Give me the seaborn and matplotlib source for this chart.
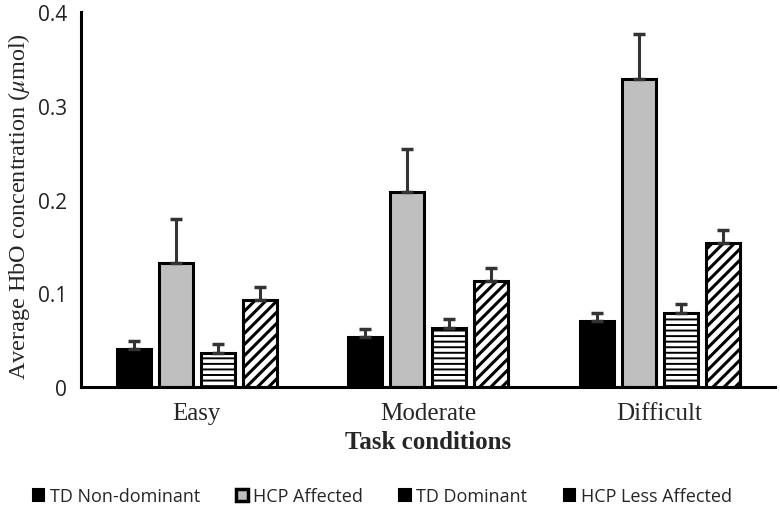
import matplotlib
matplotlib.use("Agg")
import matplotlib.pyplot as plt
import seaborn as sns
import pandas as pd
import numpy as np
from matplotlib.patches import Patch

conditions = ["Easy", "Moderate", "Difficult"]
groups = ["TD Non-dominant", "HCP Affected", "TD Dominant", "HCP Less Affected"]

td_nondominant = [0.041, 0.054, 0.071]
hcp_affected = [0.132, 0.208, 0.329]
td_dominant = [0.036, 0.063, 0.079]
hcp_less_affected = [0.093, 0.113, 0.154]

td_nondominant_err = [0.008, 0.008, 0.008]
hcp_affected_err = [0.047, 0.046, 0.048]
td_dominant_err = [0.010, 0.010, 0.010]
hcp_less_affected_err = [0.014, 0.014, 0.014]

yticks = [0, 0.1, 0.2, 0.3, 0.4]
ytick_labels = ["0", "0.1", "0.2", "0.3", "0.4"]

values = [td_nondominant, hcp_affected, td_dominant, hcp_less_affected]
errors = [td_nondominant_err, hcp_affected_err, td_dominant_err, hcp_less_affected_err]

rows = []
for g, vals in zip(groups, values):
    for c, v in zip(conditions, vals):
        rows.append({"condition": c, "group": g, "value": v})
df = pd.DataFrame(rows)

sns.set_theme(style="white")
plt.rcParams["mathtext.fontset"] = "stix"
sans = ["Liberation Sans Narrow", "Open Sans", "DejaVu Sans"]
serif = ["Liberation Serif", "DejaVu Serif"]

fig = plt.figure(figsize=(7.8, 5.1), dpi=100)
ax = fig.add_axes([0.104, 0.239, 0.890, 0.735])

palette = {"TD Non-dominant": "#000000", "HCP Affected": "#bfbfbf",
           "TD Dominant": "#ffffff", "HCP Less Affected": "#ffffff"}
hatches = ["", "", "---", "///"]

sns.barplot(data=df, x="condition", y="value", hue="group", order=conditions,
            hue_order=groups, palette=palette, width=0.726, gap=0.19,
            edgecolor="black", linewidth=2.2, errorbar=None, saturation=1,
            legend=False, ax=ax)

for cont, h, errs in zip(ax.containers, hatches, errors):
    xs, ys = [], []
    for bar in cont:
        bar.set_hatch(h)
        try:
            bar.set_hatch_linewidth(2.2 if h == "///" else 1.4)
        except Exception:
            pass
        xs.append(bar.get_x() + bar.get_width() / 2)
        ys.append(bar.get_height())
    ax.errorbar(xs, ys, yerr=[np.zeros(len(errs)), errs], fmt="none",
                ecolor="#333333", elinewidth=2.2, capsize=4, capthick=2.5, zorder=1)

ax.set_ylim(0, 0.4)
ax.set_xlim(-0.5, 2.5)
ax.set_yticks(yticks)
ax.set_yticklabels(ytick_labels, family=sans, fontsize=15, color="#222222")
ax.set_xticklabels(conditions, family=serif, fontsize=18)
ax.tick_params(axis="y", length=0, pad=10)
ax.tick_params(axis="x", length=0, pad=11)
for s in ["top", "right"]:
    ax.spines[s].set_visible(False)
for s in ["left", "bottom"]:
    ax.spines[s].set_linewidth(2.2)
    ax.spines[s].set_color("black")

ax.set_xlabel("Task conditions", family=serif, fontsize=18, fontweight="bold", labelpad=4)
ax.set_ylabel(r"Average HbO concentration ($\mu$mol)", family=serif, fontsize=17.5)
ax.yaxis.set_label_coords(-0.071, 0.485)

handles = []
for g, h in zip(groups, ["", "", "-", "/"]):
    p = Patch(facecolor=palette[g] if h == "" else "#000000", edgecolor="black",
              linewidth=1.5, label=g)
    handles.append(p)
leg = fig.legend(handles=handles, loc="lower center", bbox_to_anchor=(0.49, -0.024),
                 ncol=4, frameon=False, handlelength=0.65, handleheight=0.65,
                 handletextpad=0.3, columnspacing=2.0, prop={"family": sans, "size": 13})
for lh, g in zip(leg.legend_handles, groups):
    if g == "HCP Affected":
        lh.set_facecolor("#bfbfbf")
        lh.set_linewidth(2.5)

fig.savefig("out.png", dpi=100)
